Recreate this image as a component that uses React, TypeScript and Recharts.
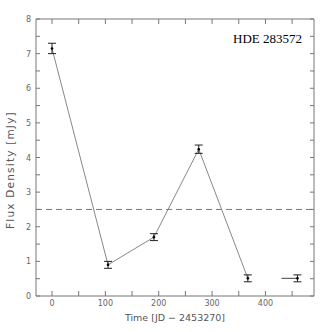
import { ComposedChart, Line, Scatter, XAxis, YAxis, ErrorBar, ReferenceLine } from "recharts";

// epochs (JD - 2453270) and flux densities [mJy]
const times = [0, 105, 191, 275, 367];
const flux = [7.15, 0.9, 1.7, 4.24, 0.51];
const fluxErr = [0.15, 0.1, 0.1, 0.12, 0.1];

// last epoch, plotted on its own with a horizontal bar to the left
const lastTime = [430, 460];
const lastFlux = [0.51, 0.51];
const lastErr = 0.1;

const xTicks = [0, 50, 100, 150, 200, 250, 300, 350, 400, 450];
const xLabels = [0, 100, 200, 300, 400];
const yTicks = [0, 0.5, 1, 1.5, 2, 2.5, 3, 3.5, 4, 4.5, 5, 5.5, 6, 6.5, 7, 7.5, 8];
const threshold = 2.5;

const lineData = times.map((t, i) => ({ t, f: flux[i], err: fluxErr[i] }));
const tailData = lastTime.map((t, i) => ({ t, f: lastFlux[i] }));
const lastPoint = [{ t: lastTime[1], f: lastFlux[1], err: lastErr }];

const GRAY = "#777";
const TICK_FONT = "'DejaVu Sans', sans-serif";

// eslint-disable-next-line @typescript-eslint/no-explicit-any
const BottomTick = ({ x, y, payload }: any) => (
  <g>
    <line x1={x} x2={x} y1={y} y2={y - 5} stroke={GRAY} />
    {xLabels.includes(payload.value) && (
      <text x={x} y={y + 10} textAnchor="middle" fontSize={8} fill="#666" fontFamily={TICK_FONT}>
        {payload.value}
      </text>
    )}
  </g>
);

// eslint-disable-next-line @typescript-eslint/no-explicit-any
const TopTick = ({ x, y }: any) => <line x1={x} x2={x} y1={y} y2={y + 5} stroke={GRAY} />;

// eslint-disable-next-line @typescript-eslint/no-explicit-any
const LeftTick = ({ x, y, payload }: any) => (
  <g>
    <line x1={x} x2={x + 4} y1={y} y2={y} stroke={GRAY} />
    {Number.isInteger(payload.value) && (
      <text x={x - 5} y={y + 3} textAnchor="end" fontSize={8} fill="#666" fontFamily={TICK_FONT}>
        {payload.value}
      </text>
    )}
  </g>
);

// eslint-disable-next-line @typescript-eslint/no-explicit-any
const RightTick = ({ x, y }: any) => <line x1={x} x2={x - 4} y1={y} y2={y} stroke={GRAY} />;

// eslint-disable-next-line @typescript-eslint/no-explicit-any
const Dot = ({ cx, cy }: any) => <circle cx={cx} cy={cy} r={1.3} fill="#000" />;

export default function App() {
  return (
    <div style={{ position: "absolute", left: 0, top: 0, width: 332, height: 332, background: "#fff" }}>
      <ComposedChart width={332} height={332} margin={{ top: 0, right: 0, bottom: 0, left: 0 }}>
        <XAxis
          xAxisId="b"
          type="number"
          dataKey="t"
          domain={[-30, 491]}
          ticks={xTicks}
          height={36}
          tickSize={0}
          tickMargin={0}
          tickLine={false}
          axisLine={{ stroke: GRAY }}
          tick={BottomTick}
          interval={0}
          allowDataOverflow
        />
        <XAxis
          xAxisId="t"
          orientation="top"
          type="number"
          dataKey="t"
          domain={[-30, 491]}
          ticks={xTicks}
          height={19}
          tickSize={0}
          tickMargin={0}
          tickLine={false}
          axisLine={{ stroke: GRAY }}
          tick={TopTick}
          interval={0}
          allowDataOverflow
        />
        <YAxis
          yAxisId="l"
          type="number"
          dataKey="f"
          domain={[0, 8]}
          ticks={yTicks}
          width={36}
          tickSize={0}
          tickMargin={0}
          tickLine={false}
          axisLine={{ stroke: GRAY }}
          tick={LeftTick}
          interval={0}
          allowDataOverflow
        />
        <YAxis
          yAxisId="r"
          orientation="right"
          type="number"
          dataKey="f"
          domain={[0, 8]}
          ticks={yTicks}
          width={18}
          tickSize={0}
          tickMargin={0}
          tickLine={false}
          axisLine={{ stroke: GRAY }}
          tick={RightTick}
          interval={0}
          allowDataOverflow
        />
        <ReferenceLine xAxisId="b" yAxisId="l" y={threshold} stroke={GRAY} strokeDasharray="6 4" />
        <Line
          xAxisId="b"
          yAxisId="l"
          data={lineData}
          dataKey="f"
          type="linear"
          stroke="#888"
          strokeWidth={1}
          dot={false}
          isAnimationActive={false}
        />
        <Line
          xAxisId="b"
          yAxisId="l"
          data={tailData}
          dataKey="f"
          type="linear"
          stroke="#444"
          strokeWidth={1}
          dot={false}
          isAnimationActive={false}
        />
        <Scatter xAxisId="b" yAxisId="l" data={lineData} dataKey="f" shape={Dot} isAnimationActive={false}>
          <ErrorBar dataKey="err" direction="y" width={4} stroke="#222" strokeWidth={1} isAnimationActive={false} />
        </Scatter>
        <Scatter xAxisId="b" yAxisId="l" data={lastPoint} dataKey="f" shape={Dot} isAnimationActive={false}>
          <ErrorBar dataKey="err" direction="y" width={4} stroke="#222" strokeWidth={1} isAnimationActive={false} />
        </Scatter>
        <text x={302} y={43} textAnchor="end" fontSize={13} fontFamily="'Liberation Serif', serif" fill="#000">
          HDE 283572
        </text>
        <text x={175} y={321} textAnchor="middle" fontSize={9.5} fill="#555" fontFamily={TICK_FONT}>
          Time [JD − 2453270]
        </text>
        <text
          x={14}
          y={170}
          textAnchor="middle"
          fontSize={10.5}
          fill="#555"
          fontFamily={TICK_FONT}
          letterSpacing={1.2}
          transform="rotate(-90 14 170)"
        >
          Flux Density [mJy]
        </text>
      </ComposedChart>
    </div>
  );
}
